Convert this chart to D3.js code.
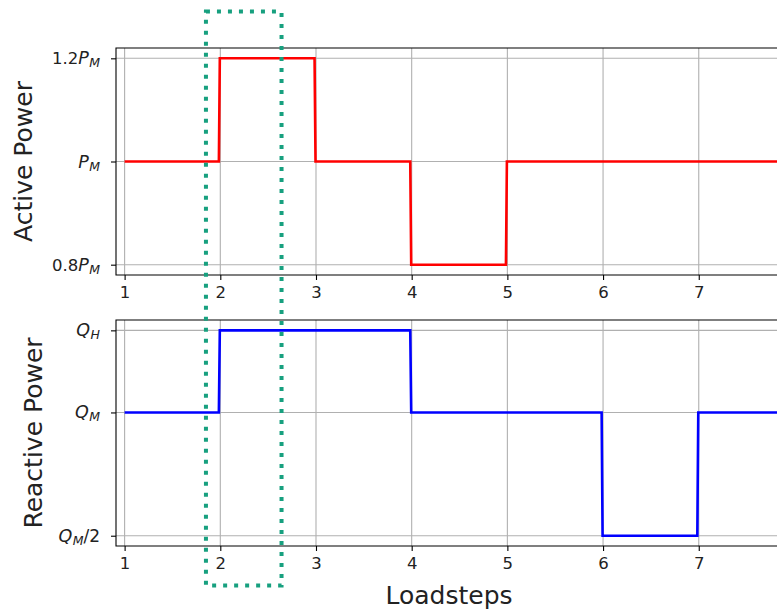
<!DOCTYPE html>
<html>
<head>
<meta charset="utf-8">
<script src="https://cdn.jsdelivr.net/npm/d3@7"></script>
<style>
  body { margin: 0; background: #fff; }
  svg { display: block; font-family: "DejaVu Sans", sans-serif; }
</style>
</head>
<body>
<svg id="chart" width="777" height="610"></svg>
<script>
// x ticks (loadsteps)
const xTicks = [1, 2, 3, 4, 5, 6, 7];

// active power, in units of P_M
const activeX = [1, 1.985, 1.995, 2.985, 2.995, 3.985, 3.995, 4.985, 4.995, 8];
const activeY = [1, 1, 1.2, 1.2, 1, 1, 0.8, 0.8, 1, 1];
const activeTicks = [0.8, 1, 1.2];
const activeLabels = [["0.8", "P", "M", ""], ["", "P", "M", ""], ["1.2", "P", "M", ""]];

// reactive power, in units of Q_M (Q_H read as about 4/3 Q_M)
const reactiveX = [1, 1.985, 1.995, 3.985, 3.995, 5.985, 5.995, 6.985, 6.995, 8];
const reactiveY = [1, 1, 1.333, 1.333, 1, 1, 0.5, 0.5, 1, 1];
const reactiveTicks = [0.5, 1, 1.333];
const reactiveLabels = [["", "Q", "M", "/2"], ["", "Q", "M", ""], ["", "Q", "H", ""]];

// highlighted loadstep window
const boxX = [1.85, 2.64];

const svg = d3.select("#chart");

const x = d3.scaleLinear().domain([0.91, 7.87]).range([116, 782]);

const panels = [
  { top: 48, bottom: 275, ydom: [0.78, 1.22], xs: activeX, ys: activeY, ticks: activeTicks,
    labels: activeLabels, color: "#ff0000", title: "Active Power", titleX: 23 },
  { top: 320, bottom: 546, ydom: [0.4583, 1.375], xs: reactiveX, ys: reactiveY, ticks: reactiveTicks,
    labels: reactiveLabels, color: "#0000ff", title: "Reactive Power", titleX: 33 }
];

panels.forEach((p, i) => {
  const y = d3.scaleLinear().domain(p.ydom).range([p.bottom, p.top]);
  const g = svg.append("g");

  svg.append("clipPath").attr("id", "clip" + i)
    .append("rect")
    .attr("x", x.range()[0]).attr("y", p.top)
    .attr("width", x.range()[1] - x.range()[0]).attr("height", p.bottom - p.top);

  // grid
  g.selectAll(".vgrid").data(xTicks).enter().append("line")
    .attr("x1", d => x(d)).attr("x2", d => x(d))
    .attr("y1", p.top).attr("y2", p.bottom)
    .attr("stroke", "#b0b0b0").attr("stroke-width", 1.1);
  g.selectAll(".hgrid").data(p.ticks).enter().append("line")
    .attr("x1", x.range()[0]).attr("x2", x.range()[1])
    .attr("y1", d => y(d)).attr("y2", d => y(d))
    .attr("stroke", "#b0b0b0").attr("stroke-width", 1.1);

  // line
  const pts = p.xs.map((v, k) => [v, p.ys[k]]);
  g.append("path")
    .datum(pts)
    .attr("clip-path", "url(#clip" + i + ")")
    .attr("fill", "none")
    .attr("stroke", p.color)
    .attr("stroke-width", 2.6)
    .attr("d", d3.line().x(d => x(d[0])).y(d => y(d[1])));

  // x axis
  const xa = g.append("g")
    .attr("transform", `translate(0,${p.bottom})`)
    .call(d3.axisBottom(x).tickValues(xTicks).tickFormat(d3.format("d")).tickSize(5).tickPadding(6));
  xa.select(".domain").remove();
  xa.selectAll("line").attr("stroke", "#000").attr("stroke-width", 1.1);
  xa.selectAll("text").attr("font-size", 16.5).attr("fill", "#222")
    .attr("font-family", "DejaVu Sans, sans-serif");

  // y axis
  const ya = g.append("g")
    .attr("transform", `translate(${x.range()[0]},0)`)
    .call(d3.axisLeft(y).tickValues(p.ticks).tickFormat("").tickSize(5));
  ya.select(".domain").remove();
  ya.selectAll("line").attr("stroke", "#000").attr("stroke-width", 1.1);

  // math-style tick labels
  p.ticks.forEach((t, k) => {
    const lab = p.labels[k];
    const tx = g.append("text")
      .attr("x", x.range()[0] - 16)
      .attr("y", y(t) + 6)
      .attr("text-anchor", "end")
      .attr("font-size", 16.5)
      .attr("fill", "#222");
    if (lab[0]) tx.append("tspan").text(lab[0]);
    tx.append("tspan").attr("font-style", "italic").attr("font-size", 17.5).text(lab[1]);
    tx.append("tspan").attr("font-style", "italic").attr("font-size", 12.5).attr("dx", 0.5).attr("dy", 3).text(lab[2]);
    if (lab[3]) tx.append("tspan").attr("dy", -3).attr("font-size", 17).text(lab[3]);
  });

  // spines (left, top, bottom; right is beyond the frame)
  g.append("path")
    .attr("d", `M${x.range()[1]},${p.top}H${x.range()[0]}V${p.bottom}H${x.range()[1]}`)
    .attr("fill", "none").attr("stroke", "#000").attr("stroke-width", 1.1);

  // y label
  svg.append("text")
    .attr("transform", `translate(${p.titleX},${(p.top + p.bottom) / 2}) rotate(-90)`)
    .attr("text-anchor", "middle")
    .attr("dominant-baseline", "central")
    .attr("font-size", 25)
    .attr("fill", "#222")
    .text(p.title);
});

// x label
svg.append("text")
  .attr("x", (x.range()[0] + x.range()[1]) / 2)
  .attr("y", 604)
  .attr("text-anchor", "middle")
  .attr("font-size", 25)
  .attr("fill", "#222")
  .text("Loadsteps");

// dotted highlight box spanning both panels
svg.append("rect")
  .attr("x", x(boxX[0])).attr("y", 11.5)
  .attr("width", x(boxX[1]) - x(boxX[0])).attr("height", 574)
  .attr("fill", "none")
  .attr("stroke", "#17a07f")
  .attr("stroke-width", 4)
  .attr("stroke-dasharray", "4,7");
</script>
</body>
</html>
